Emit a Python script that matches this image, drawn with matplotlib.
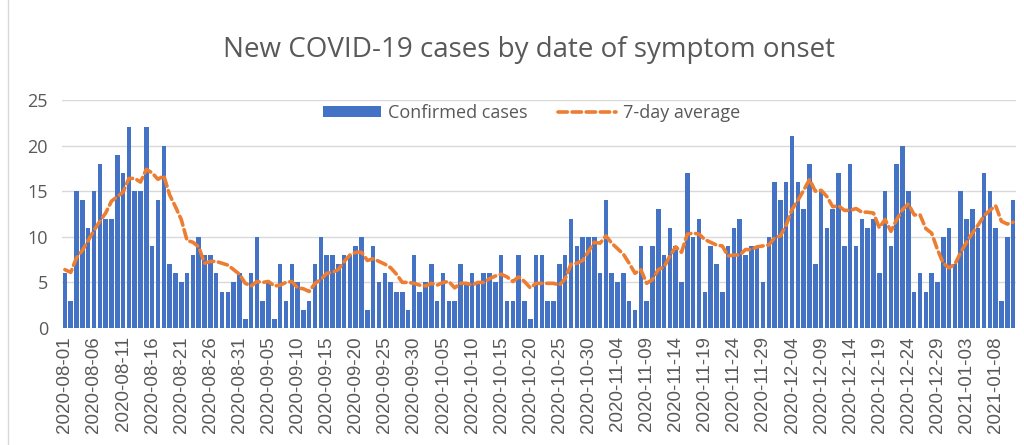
import matplotlib
matplotlib.use("Agg")
import matplotlib.pyplot as plt
import pandas as pd
from matplotlib.lines import Line2D
from matplotlib.patches import Patch

start_date = "2020-08-01"
cases = [6, 3, 15, 14, 11, 15, 18, 12, 12, 19, 17, 22, 15, 15, 22, 9, 14, 20, 7, 6,
         5, 6, 8, 10, 8, 8, 6, 4, 4, 5, 6, 1, 6, 10, 3, 5, 1, 7, 3, 7,
         5, 2, 3, 7, 10, 8, 8, 7, 8, 8, 9, 10, 2, 9, 5, 6, 5, 4, 4, 2,
         8, 4, 5, 7, 3, 6, 3, 3, 7, 5, 6, 5, 6, 6, 5, 8, 3, 3, 8, 3,
         1, 8, 8, 3, 3, 7, 8, 12, 9, 10, 10, 10, 6, 14, 6, 5, 6, 3, 2, 9,
         3, 9, 13, 8, 11, 9, 5, 17, 10, 12, 4, 9, 7, 4, 9, 11, 12, 8, 9, 9,
         5, 10, 16, 14, 16, 21, 16, 13, 18, 7, 15, 11, 13, 17, 9, 18, 9, 12, 11, 12,
         6, 15, 9, 18, 20, 15, 4, 6, 4, 6, 5, 10, 11, 7, 15, 12, 13, 11, 17, 15,
         11, 3, 10, 14]
avg7 = [6.4, 6.1, 7.7, 8.5, 9.6, 10.7, 11.7, 12.6, 13.9, 14.4, 14.9, 16.4, 16.4, 16.0, 17.4, 17.0,
        16.3, 16.7, 14.6, 13.3, 11.9, 9.6, 9.4, 8.9, 7.1, 7.3, 7.3, 7.1, 6.9, 6.4, 5.9, 4.9,
        4.6, 5.1, 5.0, 5.1, 4.6, 4.7, 5.0, 5.1, 4.4, 4.3, 4.0, 4.9, 5.3, 6.0, 6.1, 6.4,
        7.3, 8.0, 8.3, 8.3, 7.4, 7.6, 7.3, 7.0, 6.6, 5.9, 5.0, 5.0, 4.9, 4.7, 4.6, 4.9,
        4.7, 5.0, 5.1, 4.4, 4.9, 4.9, 4.7, 5.0, 5.0, 5.4, 5.7, 5.9, 5.6, 5.1, 5.6, 5.1,
        4.4, 4.9, 4.9, 4.9, 4.9, 4.7, 5.4, 7.0, 7.1, 7.4, 8.4, 9.4, 9.3, 10.1, 9.3, 8.7,
        8.1, 7.1, 6.0, 6.4, 4.9, 5.3, 6.4, 6.7, 7.9, 8.9, 8.3, 10.3, 10.4, 10.3, 9.7, 9.4,
        9.1, 9.0, 7.9, 8.0, 8.0, 8.6, 8.6, 8.9, 9.0, 9.1, 9.9, 10.1, 11.3, 13.0, 14.0, 15.1,
        16.3, 15.0, 15.1, 14.4, 13.3, 13.4, 12.9, 12.9, 13.1, 12.7, 12.7, 12.6, 11.0, 11.9, 10.6, 11.9,
        13.0, 13.6, 12.4, 12.4, 10.9, 10.4, 8.6, 7.1, 6.6, 7.0, 8.3, 9.4, 10.4, 11.3, 12.3, 12.9,
        13.4, 11.7, 11.4, 11.6]
yticks = [0, 5, 10, 15, 20, 25]
title = "New COVID-19 cases by date of symptom onset"
legend_labels = ["Confirmed cases", "7-day average"]

dates = pd.date_range(start_date, periods=len(cases)).strftime("%Y-%m-%d").tolist()
x = list(range(len(cases)))

BLUE = "#4472C4"
ORANGE = "#ED7D31"
GRAY = "#595959"
GRID = "#D9D9D9"

fig = plt.figure(figsize=(10.24, 4.45), dpi=100)
ax = fig.add_axes([62/1024, 1-328/445, (1016-62)/1024, (328-100)/445])

ax.bar(x, cases, width=0.78, color=BLUE, zorder=2)
ax.plot(x, avg7, color=ORANGE, lw=2.6, linestyle=(0, (2.6, 1.3)),
        dash_capstyle="round", zorder=3)

ax.set_xlim(-0.5, len(cases) - 0.5)
ax.set_ylim(0, 25)
ax.set_yticks(yticks)
ax.set_yticklabels([str(v) for v in yticks], fontsize=13, color=GRAY,
                   family="Open Sans")
ax.set_xticks(x[::5])
ax.set_xticklabels(dates[::5], rotation=90, fontsize=13.5, color=GRAY,
                   family="Liberation Sans")
ax.tick_params(axis="both", length=0)
ax.tick_params(axis="y", pad=10)
ax.tick_params(axis="x", pad=6)
ax.grid(axis="y", color=GRID, lw=1, zorder=0)
for s in ax.spines.values():
    s.set_visible(False)

fig.text(529/1024, 1-50/445, title, ha="center", va="center", fontsize=20,
         color=GRAY, family="Open Sans")

handles = [Patch(facecolor=BLUE, edgecolor="none"),
           Line2D([], [], color=ORANGE, lw=2.6, linestyle=(0, (2.6, 1.3)),
                  dash_capstyle="round")]
fig.legend(handles, legend_labels, loc="center", bbox_to_anchor=(532/1024, 1-113/445),
           ncol=2, frameon=False, handlelength=3.2, handleheight=0.6,
           handletextpad=0.4, columnspacing=1.7, labelcolor=GRAY,
           prop={"family": "Open Sans", "size": 13})

fig.add_artist(Line2D([8/1024, 8/1024], [0, 1], color=GRID, lw=1, transform=fig.transFigure))

fig.savefig("out.png", dpi=100)
